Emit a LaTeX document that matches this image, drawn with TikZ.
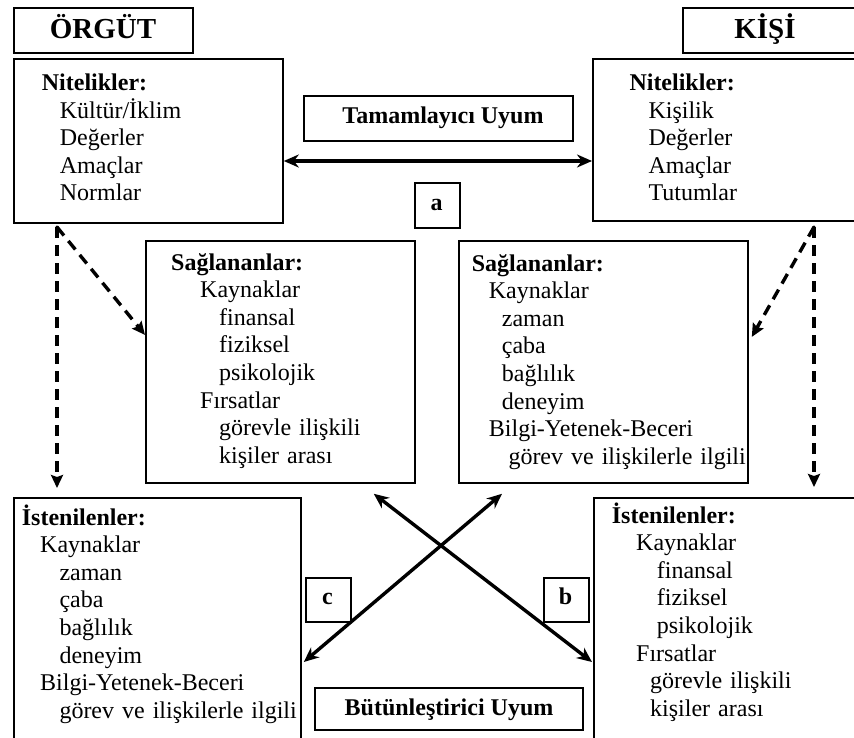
\documentclass[tikz,border=0pt]{standalone}
\usepackage{fontspec}
\setmainfont{Liberation Serif}
\usetikzlibrary{arrows.meta}
\begin{document}
\begin{tikzpicture}[x=1pt,y=-1pt,
  frame/.style={draw, line width=1.8pt, inner sep=0pt, anchor=north west},
  body/.style={font=\fontsize{24}{27.6}\selectfont, inner sep=0pt, anchor=base west,
               text width=320pt, align=left},
  head/.style={font=\fontsize{24}{27.6}\selectfont\bfseries, inner sep=0pt, anchor=base},
  title/.style={font=\fontsize{29}{32}\selectfont\bfseries, inner sep=0pt, anchor=base},
  bothway/.style={line width=3.4pt,
    {Stealth[length=15pt,width=13pt]}-{Stealth[length=15pt,width=13pt]}},
  dashlink/.style={line width=3.4pt, dash pattern=on 11pt off 7pt,
    -{Stealth[length=13pt,width=12pt,inset=2pt]}},
]
\clip (0,0) rectangle (854,737);
\fill[white] (0,0) rectangle (854,737);

% frames
\node[frame, minimum width=179pt, minimum height=45pt] (orgutbox) at (13,7) {};
\node[frame, minimum width=200pt, minimum height=45pt] (kisibox) at (682,7) {};
\node[frame, minimum width=269pt, minimum height=164pt] (nitL) at (13,58) {};
\node[frame, minimum width=280pt, minimum height=162pt] (nitR) at (592,58) {};
\node[frame, minimum width=269pt, minimum height=45pt] (tamam) at (303,95) {};
\node[frame, minimum width=45pt, minimum height=45pt] (abox) at (414,182) {};
\node[frame, minimum width=269pt, minimum height=242pt] (sagL) at (145,240) {};
\node[frame, minimum width=289pt, minimum height=242pt] (sagR) at (458,240) {};
\node[frame, minimum width=287pt, minimum height=260pt] (istL) at (13,497) {};
\node[frame, minimum width=280pt, minimum height=260pt] (istR) at (593,497) {};
\node[frame, minimum width=45pt, minimum height=44pt] (cbox) at (305,577) {};
\node[frame, minimum width=45pt, minimum height=44pt] (bbox) at (543,577) {};
\node[frame, minimum width=268pt, minimum height=42pt] (butun) at (314,687) {};

% titles and labels
\node[title] (orgut) at (103,38) {ÖRGÜT};
\node[title] (kisi) at (765,38) {KİŞİ};
\node[head] (tamamtext) at (443,123) {Tamamlayıcı Uyum};
\node[head] (atext) at (436.5,210) {a};
\node[head] (ctext) at (327.5,604) {c};
\node[head] (btext) at (565.5,604) {b};
\node[head] (butuntext) at (449,715) {Bütünleştirici Uyum};

% lists
\node[body] (nitLtext) at (41.7,90.5) {\textbf{Nitelikler:}\\
  \hspace*{18pt}Kültür/İklim\\
  \hspace*{18pt}Değerler\\
  \hspace*{18pt}Amaçlar\\
  \hspace*{18pt}Normlar};
\node[body] (nitRtext) at (629.3,90.5) {\textbf{Nitelikler:}\\
  \hspace*{19pt}Kişilik\\
  \hspace*{19pt}Değerler\\
  \hspace*{19pt}Amaçlar\\
  \hspace*{19pt}Tutumlar};
\node[body] (sagLtext) at (171,270) {\textbf{Sağlananlar:}\\
  \hspace*{29pt}Kaynaklar\\
  \hspace*{48pt}finansal\\
  \hspace*{48pt}fiziksel\\
  \hspace*{48pt}psikolojik\\
  \hspace*{29pt}Fırsatlar\\
  \hspace*{48pt}görevle ilişkili\\
  \hspace*{48pt}kişiler arası};
\node[body] (sagRtext) at (471.7,271) {\textbf{Sağlananlar:}\\
  \hspace*{17pt}Kaynaklar\\
  \hspace*{30pt}zaman\\
  \hspace*{30pt}çaba\\
  \hspace*{30pt}bağlılık\\
  \hspace*{30pt}deneyim\\
  \hspace*{17pt}Bilgi-Yetenek-Beceri\\
  \hspace*{36.6pt}görev ve ilişkilerle ilgili};
\node[body] (istLtext) at (21.7,525) {\textbf{İstenilenler:}\\
  \hspace*{18.3pt}Kaynaklar\\
  \hspace*{37.6pt}zaman\\
  \hspace*{37.6pt}çaba\\
  \hspace*{37.6pt}bağlılık\\
  \hspace*{37.6pt}deneyim\\
  \hspace*{18.3pt}Bilgi-Yetenek-Beceri\\
  \hspace*{37.6pt}görev ve ilişkilerle ilgili};
\node[body] (istRtext) at (611.7,523) {\textbf{İstenilenler:}\\
  \hspace*{24.3pt}Kaynaklar\\
  \hspace*{45pt}finansal\\
  \hspace*{45pt}fiziksel\\
  \hspace*{45pt}psikolojik\\
  \hspace*{24.3pt}Fırsatlar\\
  \hspace*{38.3pt}görevle ilişkili\\
  \hspace*{38.3pt}kişiler arası};

% complementary fit arrow
\coordinate (hy) at (0,161);
\draw[bothway, line width=4.4pt] (nitL.east |- hy) -- (nitR.west |- hy);

% supplementary fit arrows
\draw[bothway] ([shift={(-42,10)}]sagL.south east) -- ([shift={(-1,165)}]istR.north west);
\draw[bothway] ([shift={(44,10)}]sagR.south west) -- ([shift={(2,165)}]istL.north east);

% dashed links, left side
\coordinate (hubL) at (57,227);
\draw[dashlink, shorten >=9pt] (hubL) -- (hubL |- istL.north);
\draw[dashlink] (hubL) -- ([shift={(0,-27)}]sagL.west);
\fill (hubL) circle (1.7pt);

% dashed links, right side
\coordinate (hubR) at (814,227);
\draw[dashlink, shorten >=10pt] (hubR) -- (hubR |- istR.north);
\draw[dashlink] (hubR) -- ([shift={(3,-25)}]sagR.east);
\fill (hubR) circle (1.7pt);
\end{tikzpicture}
\end{document}
